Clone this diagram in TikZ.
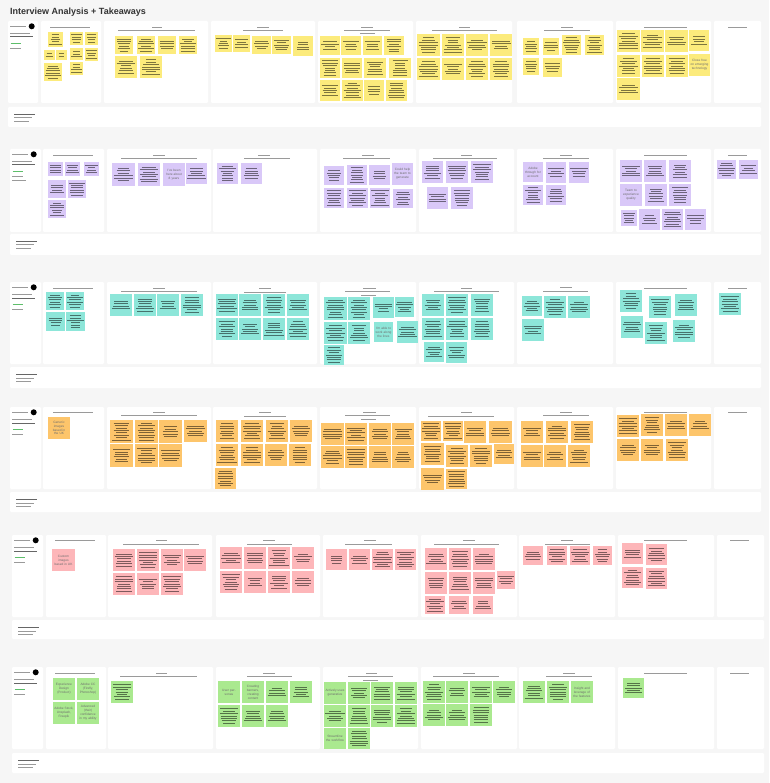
\documentclass[tikz,border=0pt]{standalone}
\usepackage{fontspec}
\setmainfont{Liberation Sans}
\definecolor{bg}{HTML}{F6F6F6}
\definecolor{titlec}{HTML}{333333}
\definecolor{yel}{HTML}{FCEB7C}
\definecolor{pur}{HTML}{D9C8F8}
\definecolor{tea}{HTML}{8DE6D9}
\definecolor{ora}{HTML}{FDC56B}
\definecolor{pnk}{HTML}{FDB6B9}
\definecolor{grn}{HTML}{AAE98F}
\definecolor{rulec}{HTML}{9A9A9A}
\definecolor{ruledark}{HTML}{666666}
\definecolor{tagg}{HTML}{5DBE6A}
\definecolor{stickytext}{HTML}{6E6E6E}
\tikzset{
  card/.style={fill=white, rounded corners=1.2pt},
  txtline/.style={draw=black, draw opacity=0.5, line width=0.8pt},
  rulel/.style={draw=rulec, line width=1pt},
  ruled/.style={draw=ruledark, line width=1pt},
  titl/.style={draw=rulec, line width=1pt},
  greenl/.style={draw=tagg, line width=1pt},
  stext/.style={font=\fontsize{3.2}{3.9}\selectfont, text=stickytext, align=center, inner sep=0pt},
}
% sticky note with greeked lines of text
\newcommand\stk[5]{%
  \fill[#5] (#1,#2) rectangle ++(#3,#4);
  \pgfmathtruncatemacro\stkn{max(2,min(int((#4-3)/2.4),4+int(rnd*5)))}%
  \pgfmathsetmacro\stktop{#2+#4/2-(\stkn-1)*1.2}%
  \foreach \k in {1,...,\stkn}{%
    \pgfmathsetmacro\stkw{(0.45+0.42*rnd)*#3}%
    \draw[txtline] ({#1+#3/2-\stkw/2},{\stktop+(\k-1)*2.4}) -- ++(\stkw,0);
  }%
}
% sticky note with readable text
\newcommand\tstk[7]{%
  \fill[#5] (#1,#2) rectangle ++(#3,#4);
  \pgfmathsetmacro\tstkw{#3-2}%
  \node[stext, text width=\tstkw pt] (#6) at (#1+#3/2,#2+#4/2) {#7};
}
% white cards of one row
\newcommand\rowcards[3]{\foreach \ca/\cb in {#3}{\fill[card] (\ca,#1) rectangle (\cb,#2);}}
% title rule
\newcommand\tl[3]{\draw[titl] (#1,#3) -- (#2,#3);}
% first (legend) card content
\newcommand\lcol[2]{%
  \draw[rulel] (#1+2,#2+5.5) -- (#1+18,#2+5.5);
  \fill[black] (#1+23.7,#2+5.3) circle (3);
  \draw[rulel] (#1+2,#2+12.7) -- (#1+22,#2+12.7);
  \draw[ruled] (#1+2,#2+16) -- (#1+25,#2+16);
  \draw[greenl] (#1+2.5,#2+22.3) -- (#1+13,#2+22.3);
  \draw[rulel] (#1+2,#2+27.7) -- (#1+13,#2+27.7);
}
% lower strip of a row
\newcommand\strip[4]{%
  \fill[card] (#1,#3) rectangle (#2,#4);
  \draw[ruled] (#1+6,#3+7.5) -- ++(21,0);
  \draw[rulel] (#1+6,#3+11) -- ++(18,0);
  \draw[rulel] (#1+6,#3+14.5) -- ++(15,0);
}
\begin{document}
\begin{tikzpicture}[x=1pt,y=-1pt]
\pgfmathsetseed{7}
\useasboundingbox (0,0) rectangle (769,783);
\fill[bg] (0,0) rectangle (769,783);
\node[anchor=base west, font=\bfseries\fontsize{9}{10}\selectfont, text=titlec, inner sep=0pt] (title) at (10,14.6) {Interview Analysis + Takeaways};

% ---------------- Row 1 : yellow ----------------
\rowcards{21}{103}{8/38,41/101,104/208,211/315,318/413,416/512,517/613,616/711,714/761}
\strip{8}{761}{107}{127}
\lcol{8}{21}
\tl{50}{90}{27.3}
\tl{152}{162}{27.3}\tl{118}{195}{30.7}
\tl{257}{269}{27.3}\tl{243}{283}{30.7}
\tl{361}{373}{27.3}\tl{344}{390}{30.7}\tl{360}{375}{34}
\tl{459}{470}{27.3}\tl{432}{497}{30.7}
\tl{561}{573}{27.3}\tl{544}{590}{31}
\tl{644}{687}{27.3}
\tl{728}{747}{27.3}
\foreach \sx/\sy/\sw/\sh in {48/32/15/15,70/32/13/13,85/32/13/13,44/50/11/10,56/50/11/10,70/48/13/12,85/48/13/13,44/63/18/18,70/62/13/13,
 115/36/18/18,137/36/18/18,158/36/18/18,179/36/18/18,115/56/22/22,140/56/22/22,
 215/35/17/17,233/35/17/17,252/36/19/18,272/36/19/18,293/36/20/20,
 320/36/20/19,341/36/20/19,363/36/19/19,384/36/20/19,320/58/20/20,342/58/20/20,364/58/22/20,389/58/22/20,320/80/20/21,342/80/21/21,364/80/20/21,386/80/21/21,
 417/34/23/22,442/34/22/22,466/34/22/22,490/34/22/22,417/58/23/22,442/58/22/22,466/58/22/22,490/58/22/22,
 523/38/16/17,543/38/16/17,562/35/19/20,585/35/19/20,523/58/16/17,543/58/19/19,
 617/30/23/22,641/30/23/22,665/30/23/22,689/30/20/21,617/55/23/22,642/55/22/22,666/55/22/22,617/78/23/22}
 {\stk{\sx}{\sy}{\sw}{\sh}{yel}}
\tstk{689}{54}{21}{22}{yel}{ya}{Close free on emerging technology}

% ---------------- Row 2 : purple ----------------
\rowcards{149}{232}{10/41,43/104,107/211,213/317,320/416,419/514,517/613,616/711,714/761}
\strip{10}{761}{234}{255}
\lcol{10}{149}
\draw[rulel] (12,181) -- (26,181);
\tl{53}{93}{155.3}
\tl{153}{165}{155.3}\tl{121}{197}{159}
\tl{258}{270}{155.3}\tl{244}{290}{159}
\tl{362}{374}{155.3}\tl{343}{390}{159}
\tl{461}{472}{155.3}\tl{433}{497}{159}
\tl{560}{572}{155.3}\tl{543}{589}{159}
\tl{644}{687}{155.3}
\tl{728}{747}{155.3}
\foreach \sx/\sy/\sw/\sh in {48/162/15/14,65/162/15/14,84/162/15/14,48/180/18/18,68/180/18/18,48/200/18/18,
 112/163/23/23,138/163/22/23,186/163/21/21,
 217/163/21/21,241/163/21/21,
 324/166/20/19,347/165/20/20,369/165/21/20,324/188/20/20,347/188/21/20,370/188/20/20,393/189/20/19,
 422/161/21/22,446/161/22/22,471/161/22/22,427/187/21/22,451/187/22/22,
 546/162/20/21,569/162/20/21,523/185/20/20,546/185/20/20,
 620/160/22/22,644/160/22/22,669/160/22/22,645/184/22/22,669/184/22/22,621/210/16/16,639/209/21/21,662/209/21/21,685/209/21/21,
 717/160/19/19,739/160/19/19}
 {\stk{\sx}{\sy}{\sw}{\sh}{pur}}
\tstk{163}{163}{22}{23}{pur}{pa}{I've been here about 8 years}
\tstk{392}{163}{21}{22}{pur}{pb}{Could help the team to generate}
\tstk{523}{162}{20}{20}{pur}{pc}{Adobe through for account}
\tstk{620}{184}{22}{22}{pur}{pd}{Team to experience quality}

% ---------------- Row 3 : teal ----------------
\rowcards{282}{364}{10/41,43/104,107/211,213/317,320/416,419/514,517/613,616/711,714/761}
\strip{10}{761}{367}{388}
\lcol{10}{282}
\tl{53}{93}{288.3}
\tl{153}{165}{288.3}\tl{121}{197}{291.3}
\tl{259}{271}{288.3}\tl{244}{286}{292}
\tl{363}{376}{288.3}\tl{345}{390}{291.3}\tl{361}{376}{295}
\tl{461}{472}{288.3}\tl{434}{499}{291.7}
\tl{560}{572}{287.7}\tl{543}{588}{291}
\tl{644}{687}{288.3}
\tl{728}{747}{288.3}
\foreach \sx/\sy/\sw/\sh in {46/292/18/18,66/292/18/18,46/312/19/19,66/312/19/19,
 110/294/22/22,134/294/22/22,157/294/22/22,181/294/22/22,
 216/294/22/22,239/294/22/22,263/294/22/22,287/294/22/22,216/318/22/22,239/318/22/22,263/318/22/22,287/318/22/22,
 324/297/23/23,348/297/22/23,373/297/21/21,395/297/19/20,324/322/23/22,348/322/22/22,397/321/21/22,324/345/20/20,
 422/294/22/22,446/294/22/22,471/294/22/22,422/318/22/22,446/318/22/22,471/318/22/22,424/342/20/20,446/342/21/21,
 522/296/20/20,544/296/22/22,568/296/22/22,522/319/22/22,
 620/290/22/22,649/296/22/22,675/294/22/22,621/316/22/22,645/322/22/22,673/320/22/22,
 719/293/22/22}
 {\stk{\sx}{\sy}{\sw}{\sh}{tea}}
\tstk{374}{322}{19}{20}{tea}{ta}{I'm able to work along the lines}

% ---------------- Row 4 : orange ----------------
\rowcards{407}{489}{10/41,43/104,107/211,213/317,320/416,419/514,517/613,616/711,714/761}
\strip{10}{761}{492}{512}
\lcol{10}{407}
\tl{53}{93}{412.3}
\tl{153}{165}{412.3}\tl{121}{197}{415.7}
\tl{259}{271}{412.3}\tl{244}{286}{416}
\tl{363}{376}{412.3}\tl{345}{390}{415.7}\tl{361}{376}{419.3}
\tl{461}{472}{412.7}\tl{428}{494}{416}
\tl{560}{572}{412.3}\tl{543}{589}{415.7}
\tl{644}{687}{412.3}
\tl{728}{747}{412.7}
\foreach \sx/\sy/\sw/\sh in {110/420/23/23,135/420/23/23,159/420/23/23,184/420/23/22,110/444/23/23,135/444/23/23,159/444/23/23,
 216/420/22/22,241/420/22/22,266/420/22/22,290/420/22/22,216/444/22/22,241/444/22/22,265/444/22/22,289/444/22/22,215/468/21/21,
 321/423/23/22,345/423/22/22,369/423/22/22,392/423/22/22,321/446/23/22,345/446/22/22,369/446/22/22,392/446/22/22,
 421/421/20/20,443/421/20/20,464/421/22/22,489/421/23/22,421/443/23/22,446/445/22/22,470/445/22/22,494/444/20/20,421/468/23/22,446/469/21/20,
 521/421/22/22,546/421/22/22,571/421/22/22,521/445/22/22,544/445/22/22,568/445/22/22,
 617/415/22/22,641/414/22/22,665/414/22/22,689/414/22/22,617/439/22/22,641/439/22/22,666/439/22/22}
 {\stk{\sx}{\sy}{\sw}{\sh}{ora}}
\tstk{48}{417}{22}{22}{ora}{oa}{Generic images based in the UK}

% ---------------- Row 5 : pink ----------------
\rowcards{535}{617}{12/43,46/106,108/212,216/320,323/418,421/517,519/615,618/714,717/764}
\strip{12}{764}{620}{639}
\lcol{12}{535}
\tl{55}{95}{540.7}
\tl{156}{167}{540.7}\tl{123}{199}{544}
\tl{263}{275}{540.7}\tl{247}{292}{544}
\tl{364}{376}{540.7}\tl{345}{392}{544}
\tl{463}{475}{540.7}\tl{434}{499}{544}
\tl{561}{573}{540.7}\tl{545}{590}{544}
\tl{644}{687}{540.7}
\tl{730}{749}{540.7}
\foreach \sx/\sy/\sw/\sh in {113/549/22/22,137/549/22/22,161/549/22/22,184/549/22/22,113/573/22/22,137/573/22/22,161/573/22/22,
 220/547/22/22,244/547/22/22,268/547/22/22,292/547/22/22,220/571/22/22,244/571/22/22,268/571/22/22,292/571/22/22,
 326/549/21/21,349/549/21/21,372/549/21/21,395/549/21/21,
 425/548/22/22,449/548/22/22,473/548/22/22,425/572/22/22,449/572/22/22,473/572/22/22,497/571/18/18,425/596/20/18,449/596/20/18,473/596/20/18,
 523/546/20/19,547/546/20/19,570/546/20/19,593/546/19/19,
 622/543/21/21,646/544/21/21,622/567/21/21,646/568/21/21}
 {\stk{\sx}{\sy}{\sw}{\sh}{pnk}}
\tstk{52}{549}{23}{22}{pnk}{ka}{Custom images based in UK}

% ---------------- Row 6 : green ----------------
\rowcards{667}{749}{12/43,46/106,108/213,216/320,323/418,421/517,519/615,618/714,717/764}
\strip{12}{764}{753}{773}
\lcol{12}{667}
\tl{55}{95}{673.3}
\tl{156}{167}{673.3}\tl{120}{197}{676}
\tl{263}{275}{673.3}\tl{247}{292}{676}
\tl{366}{377}{673.3}\tl{348}{393}{676}\tl{363}{378}{680}
\tl{463}{475}{673.3}\tl{433}{499}{676.7}
\tl{563}{575}{673.3}\tl{546}{592}{676}
\tl{644}{687}{673.3}
\tl{730}{749}{673.3}
\foreach \sx/\sy/\sw/\sh in {111/681/22/22,
 266/681/22/22,290/681/22/22,218/705/22/22,242/705/22/22,266/705/22/22,
 348/682/22/22,371/682/22/22,395/682/22/22,324/705/22/22,348/705/22/22,371/705/22/22,395/705/22/22,348/728/22/21,
 423/681/22/22,446/681/22/22,470/681/22/22,493/681/22/22,423/704/22/22,446/704/22/22,470/704/22/22,
 523/681/22/22,547/681/22/22,
 623/678/21/20}
 {\stk{\sx}{\sy}{\sw}{\sh}{grn}}
\tstk{53}{678}{22}{22}{grn}{ga}{Experience Design (Product)}
\tstk{77}{678}{22}{22}{grn}{gb}{Adobe CC (Firefly, Photoshop)}
\tstk{53}{702}{22}{22}{grn}{gc}{Adobe Stock, Unsplash, Freepik}
\tstk{77}{702}{22}{22}{grn}{gd}{Advanced (their) confidence in my ability}
\tstk{218}{681}{22}{22}{grn}{ge}{User personas}
\tstk{242}{681}{22}{22}{grn}{gf}{Creating banners, creating content}
\tstk{324}{682}{22}{22}{grn}{gg}{Actively uses generative}
\tstk{324}{728}{22}{21}{grn}{gh}{Streamline the workflow}
\tstk{571}{681}{22}{22}{grn}{gi}{Insight and leverage of the features}
\end{tikzpicture}
\end{document}
